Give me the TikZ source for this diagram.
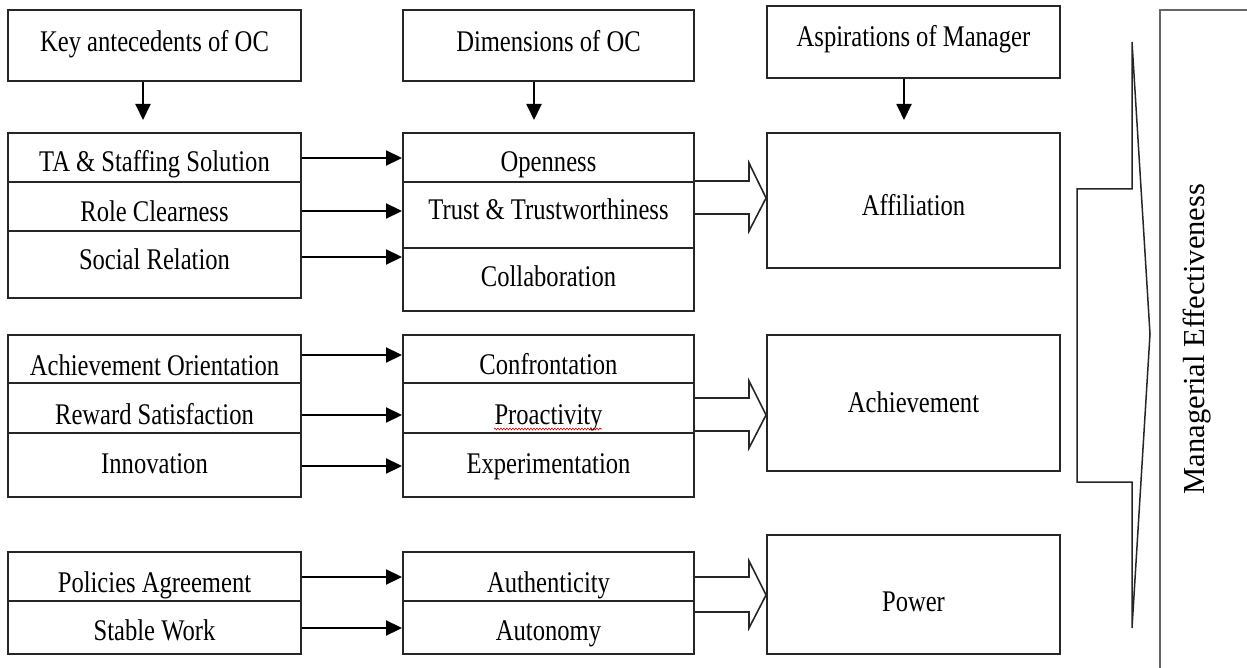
\documentclass[tikz,border=0pt]{standalone}
\usepackage{fontspec}
\setmainfont{Liberation Serif}[FakeStretch=0.82]
\newfontfamily\mefont{Liberation Serif}
\usetikzlibrary{arrows.meta,fit,decorations.pathmorphing}
\tikzset{
  cellbox/.style={draw=black!85, line width=1.9pt, inner sep=0pt, rectangle},
  txt/.style={font=\fontsize{30}{35}\selectfont, inner sep=0pt, anchor=base},
  metxt/.style={font=\mefont\fontsize{30.5}{35}\selectfont, inner sep=0pt, anchor=base, rotate=90},
  arr/.style={line width=1.9pt, -{Triangle[length=16pt,width=15pt]}},
  hollow/.style={draw=black!85, line width=1.6pt, line join=miter},
  chevron/.style={draw=black!85, line width=1.5pt, line join=miter},
  outerbox/.style={draw=black!60, line width=1.3pt},
  squiggle/.style={draw=red!80!black, line width=0.6pt, decorate, decoration={snake, amplitude=0.9pt, segment length=3pt}}
}
\begin{document}
\begin{tikzpicture}[x=1pt,y=-1pt]
\useasboundingbox (0,0) rectangle (1247,668);

% headers
\node[cellbox, fit={(8,10) (301,81)}] (h1) {};
\node[cellbox, fit={(403,10) (694,81)}] (h2) {};
\node[cellbox, fit={(767,6) (1060,78)}] (h3) {};
\node[txt] (th1) at (h1.center |- 0,52) {Key antecedents of OC};
\node[txt] (th2) at (h2.center |- 0,52) {Dimensions of OC};
\node[txt] (th3) at (h3.center |- 0,47) {Aspirations of Manager};

\coordinate (d1) at (143,120);
\coordinate (d2) at (534,120);
\coordinate (d3) at (904,120);
\draw[arr] (h1.south -| d1) -- (d1);
\draw[arr] (h2.south -| d2) -- (d2);
\draw[arr] (h3.south -| d3) -- (d3);

% group 1
\node[cellbox, fit={(8,133) (301,182)}] (a1) {};
\node[cellbox, fit={(8,182) (301,231)}] (a2) {};
\node[cellbox, fit={(8,231) (301,298)}] (a3) {};
\node[cellbox, fit={(403,133) (694,182)}] (b1) {};
\node[cellbox, fit={(403,182) (694,248)}] (b2) {};
\node[cellbox, fit={(403,248) (694,311)}] (b3) {};
\node[cellbox, fit={(767,133) (1060,268)}] (aff) {};
\node[txt] (ta1) at (a1.center |- 0,172) {TA \& Staffing Solution};
\node[txt] (ta2) at (a2.center |- 0,222) {Role Clearness};
\node[txt] (ta3) at (a3.center |- 0,270) {Social Relation};
\node[txt] (tb1) at (b1.center |- 0,172) {Openness};
\node[txt] (tb2) at (b2.center |- 0,220) {Trust \& Trustworthiness};
\node[txt] (tb3) at (b3.center |- 0,287) {Collaboration};
\node[txt] (taff) at (aff.center |- 0,216) {Affiliation};
\draw[arr] (a1.east |- 0,158) -- (b1.west |- 0,158);
\draw[arr] (a2.east |- 0,211) -- (b2.west |- 0,211);
\draw[arr] (a3.east |- 0,257) -- (b2.west |- 0,257);
\draw[hollow] (b2.east |- 0,181) -- (749,181) -- (749,163) -- (aff.west |- 0,198)
  -- (749,231) -- (749,214) -- (b2.east |- 0,214);

% group 2
\node[cellbox, fit={(8,335) (301,383)}] (a4) {};
\node[cellbox, fit={(8,383) (301,433)}] (a5) {};
\node[cellbox, fit={(8,433) (301,497)}] (a6) {};
\node[cellbox, fit={(403,335) (694,383)}] (b4) {};
\node[cellbox, fit={(403,383) (694,433)}] (b5) {};
\node[cellbox, fit={(403,433) (694,497)}] (b6) {};
\node[cellbox, fit={(767,335) (1060,471)}] (ach) {};
\node[txt] (ta4) at (a4.center |- 0,375) {Achievement Orientation};
\node[txt] (ta5) at (a5.center |- 0,424) {Reward Satisfaction};
\node[txt] (ta6) at (a6.center |- 0,473) {Innovation};
\node[txt] (tb4) at (b4.center |- 0,374) {Confrontation};
\node[txt] (tb5) at (b5.center |- 0,424) {Proactivity};
\node[txt] (tb6) at (b6.center |- 0,473) {Experimentation};
\node[txt] (tach) at (ach.center |- 0,412) {Achievement};
\draw[squiggle] (494,429) -- (602,429);
\draw[arr] (a4.east |- 0,355) -- (b4.west |- 0,355);
\draw[arr] (a5.east |- 0,415) -- (b5.west |- 0,415);
\draw[arr] (a6.east |- 0,466) -- (b6.west |- 0,466);
\draw[hollow] (b5.east |- 0,398) -- (749,398) -- (749,381) -- (ach.west |- 0,415)
  -- (749,448) -- (749,431) -- (b5.east |- 0,431);

% group 3
\node[cellbox, fit={(8,552) (301,601)}] (a7) {};
\node[cellbox, fit={(8,601) (301,654)}] (a8) {};
\node[cellbox, fit={(403,552) (694,601)}] (b7) {};
\node[cellbox, fit={(403,601) (694,654)}] (b8) {};
\node[cellbox, fit={(767,535) (1060,654)}] (pow) {};
\node[txt] (ta7) at (a7.center |- 0,592) {Policies Agreement};
\node[txt] (ta8) at (a8.center |- 0,640) {Stable Work};
\node[txt] (tb7) at (b7.center |- 0,592) {Authenticity};
\node[txt] (tb8) at (b8.center |- 0,640) {Autonomy};
\node[txt] (tpow) at (pow.center |- 0,611) {Power};
\draw[arr] (a7.east |- 0,577) -- (b7.west |- 0,577);
\draw[arr] (a8.east |- 0,628) -- (b8.west |- 0,628);
\draw[hollow] (b7.east |- 0,577) -- (749,577) -- (749,561) -- (pow.west |- 0,595)
  -- (749,628) -- (749,612) -- (b8.east |- 0,612);

% big chevron arrow
\draw[chevron] (1077,189) -- (1132,189) -- (1132,42) -- (1150,334) -- (1132,628)
  -- (1132,482) -- (1077,482) -- cycle;

% managerial effectiveness box (runs off the page)
\coordinate (mebl) at (1160,668);
\coordinate (metr) at (1247,10);
\draw[outerbox] (mebl) |- (metr);
\node[metxt] (tme) at (1204,339) {Managerial Effectiveness};
\end{tikzpicture}
\end{document}
